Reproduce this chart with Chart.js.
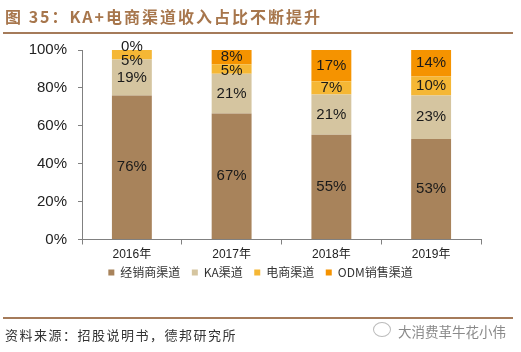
<!DOCTYPE html>
<html>
<head>
<meta charset="utf-8">
<script src="https://cdn.jsdelivr.net/npm/chart.js@4.4.0/dist/chart.umd.min.js"></script>
<style>
  html, body { margin: 0; padding: 0; background: #fff; }
  body { width: 521px; height: 352px; position: relative; overflow: hidden; }
  #wrap { position: absolute; left: 0; top: 0; width: 521px; height: 352px; }
  .title { position: absolute; left: 5px; top: 4px; font: bold 16px "Noto Sans CJK SC", sans-serif; color: #A7764C; letter-spacing: 2px; white-space: nowrap; }
  .rule { position: absolute; left: 3px; width: 510px; height: 2px; background: #A57B5A; }
  .src { position: absolute; left: 5px; top: 325px; font: 13px "Noto Sans CJK SC", sans-serif; color: #333; letter-spacing: 1.5px; white-space: nowrap; }
  .wm { position: absolute; left: 398px; top: 321px; font: 13.5px "Noto Sans CJK SC", sans-serif; color: #8a8a8a; white-space: nowrap; }
  .icon { position: absolute; left: 373px; top: 322px; width: 16px; height: 13px; border: 1px solid #bbb; border-radius: 50%; }
</style>
</head>
<body>
<div id="wrap"><canvas id="c" width="521" height="352"></canvas></div>
<div class="title">图 35：KA+电商渠道收入占比不断提升</div>
<div class="rule" style="top:32px"></div>
<div class="rule" style="top:317px"></div>
<div class="src">资料来源：招股说明书，德邦研究所</div>
<div class="icon"></div>
<div class="wm">大消费革牛花小伟</div>
<script>
const categories = ['2016年', '2017年', '2018年', '2019年'];
const seriesNames = ['经销商渠道', 'KA渠道', '电商渠道', 'ODM销售渠道'];
const dealer = [76, 66.5, 55.3, 53];
const ka = [19, 21, 21.2, 23];
const ecommerce = [5, 5, 7, 10];
const odm = [0, 7.5, 16.5, 14];
const yTicks = [0, 20, 40, 60, 80, 100];
const colors = ['#A8835B', '#D5C5A0', '#F5B735', '#F59300'];

const seriesValues = [dealer, ka, ecommerce, odm];

const labelPlugin = {
  id: 'segLabels',
  afterLayout(chart) {
    const lg = chart.legend;
    if (lg) { lg.left += 20; lg.right += 20; lg.top -= 7.5; lg.bottom -= 7.5; }
  },
  afterDatasetsDraw(chart) {
    const ctx = chart.ctx;
    ctx.save();
    ctx.font = '15px "Liberation Sans", Arial, sans-serif';
    ctx.fillStyle = '#1a1a1a';
    ctx.textAlign = 'center';
    ctx.textBaseline = 'middle';
    const n = chart.data.labels.length;
    for (let i = 0; i < n; i++) {
      const items = [];
      for (let d = chart.data.datasets.length - 1; d >= 0; d--) {
        const el = chart.getDatasetMeta(d).data[i];
        const v = chart.data.datasets[d].data[i];
        items.push({ x: el.x, y: (el.y + el.base) / 2, text: Math.round(v) + '%' });
      }
      let prev = -Infinity;
      items.forEach((it, k) => {
        let y = Math.max(it.y, prev + 13.5);
        if (k === 0 && it.y - 3 < chart.chartArea.top) y = it.y - 3;
        ctx.fillText(it.text, it.x, y);
        prev = y;
      });
    }
    ctx.restore();
  }
};

new Chart(document.getElementById('c'), {
  type: 'bar',
  data: {
    labels: categories,
    datasets: seriesNames.map((name, k) => ({
      label: name,
      data: seriesValues[k],
      backgroundColor: colors[k],
      borderWidth: 0,
      barPercentage: 0.4,
      categoryPercentage: 1
    }))
  },
  options: {
    responsive: false,
    animation: false,
    layout: { padding: { left: 0, right: 40, top: 50, bottom: 56 } },
    plugins: {
      tooltip: { enabled: false },
      legend: {
        position: 'bottom',
        labels: {
          boxWidth: 6,
          boxHeight: 6,
          padding: 11.5,
          color: '#333',
          font: { size: 12, family: '"Noto Sans CJK SC", sans-serif' }
        }
      }
    },
    scales: {
      x: {
        stacked: true,
        grid: { display: true, drawOnChartArea: false, drawTicks: true, tickLength: 5, color: '#808080', offset: true },
        border: { display: true, color: '#808080', width: 1 },
        ticks: { color: '#222', padding: 3, font: { size: 12, family: '"Liberation Sans", Arial, "Noto Sans CJK SC", sans-serif' } },
        afterFit(s) { s.height = 23; }
      },
      y: {
        stacked: true,
        min: 0, max: 100,
        afterBuildTicks(s) { s.ticks = yTicks.map(v => ({ value: v })); },
        grid: { display: true, drawOnChartArea: false, drawTicks: true, tickLength: 4, color: '#808080' },
        border: { display: true, color: '#808080', width: 1 },
        ticks: { color: '#222', padding: 11, callback: v => v + '%', font: { size: 15, family: '"Liberation Sans", Arial, sans-serif' } },
        afterFit(s) { s.width = 82; }
      }
    }
  },
  plugins: [labelPlugin]
});
</script>
</body>
</html>
